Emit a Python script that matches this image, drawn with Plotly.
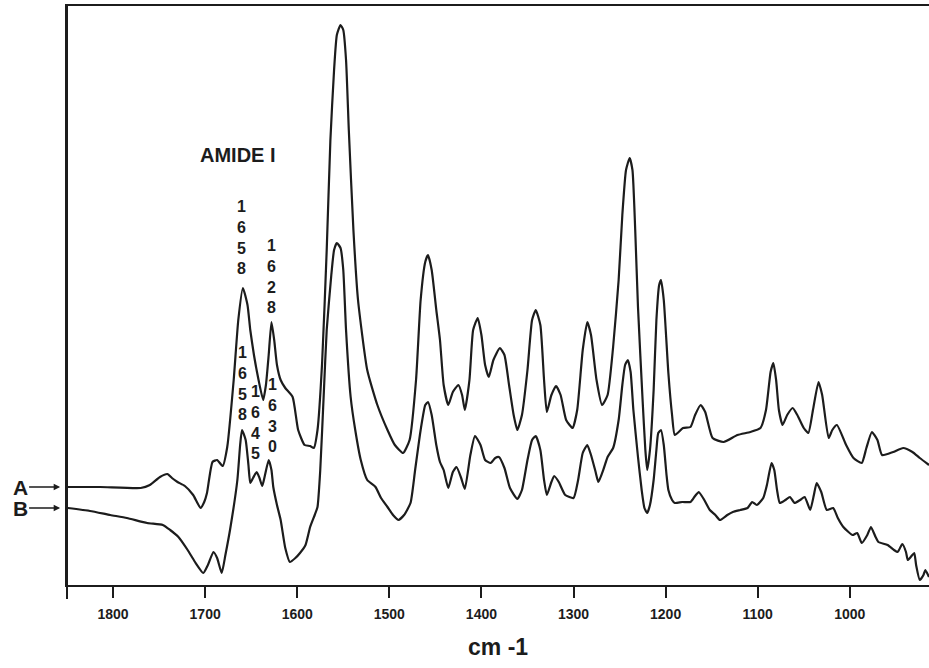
import plotly.graph_objects as go

# Wavenumbers (cm-1) and absorbance (a.u.)
wn_a = [1849, 1814, 1770, 1760, 1749, 1741, 1736, 1730, 1722, 1713, 1705, 1701, 1698, 1692, 1687, 1681,
        1676, 1669, 1664, 1659, 1654, 1651, 1647, 1642, 1637, 1634, 1631, 1628, 1625, 1622, 1618, 1613,
        1605, 1599, 1592, 1586, 1582, 1578, 1573, 1568, 1564, 1560, 1557, 1553, 1550, 1547, 1544, 1539,
        1534, 1524, 1513, 1502, 1494, 1485, 1478, 1471, 1466, 1461, 1458, 1454, 1449, 1445, 1441, 1436,
        1431, 1425, 1421, 1418, 1413, 1409, 1404, 1400, 1396, 1392, 1387, 1380, 1375, 1370, 1365, 1361,
        1356, 1350, 1345, 1341, 1336, 1332, 1329, 1324, 1319, 1314, 1308, 1301, 1296, 1290, 1285, 1281,
        1275, 1269, 1263, 1257, 1251, 1247, 1243, 1239, 1236, 1233, 1230, 1225, 1222, 1220, 1217, 1213,
        1210, 1207, 1205, 1202, 1197, 1193, 1190, 1181, 1173, 1168, 1162, 1157, 1149, 1137, 1122, 1108,
        1097, 1091, 1086, 1083, 1080, 1077, 1073, 1068, 1062, 1057, 1050, 1045, 1040, 1034, 1030, 1023,
        1019, 1014, 1004, 996, 987, 982, 976, 970, 965, 953, 942, 932, 924, 914]
abs_a = [0.98, 0.98, 0.97, 1.00, 1.08, 1.11, 1.07, 1.03, 0.99, 0.90, 0.77, 0.83, 0.92, 1.23, 1.25, 1.19,
         1.38, 2.05, 2.65, 2.97, 2.80, 2.55, 2.30, 2.05, 1.85, 2.00, 2.30, 2.63, 2.45, 2.20, 2.05, 1.97,
         1.88, 1.55, 1.40, 1.39, 1.37, 1.55, 2.22, 3.35, 4.45, 5.15, 5.50, 5.60, 5.55, 5.25, 4.55, 3.55,
         2.85, 2.15, 1.80, 1.55, 1.40, 1.32, 1.45, 2.05, 2.85, 3.23, 3.30, 3.15, 2.75, 2.45, 2.00, 1.80,
         1.93, 2.00, 1.90, 1.75, 2.05, 2.55, 2.67, 2.50, 2.20, 2.08, 2.25, 2.37, 2.30, 2.00, 1.70, 1.55,
         1.70, 2.15, 2.65, 2.75, 2.60, 2.05, 1.73, 1.90, 1.99, 1.90, 1.65, 1.57, 1.75, 2.35, 2.63, 2.50,
         2.05, 1.80, 1.90, 2.38, 3.05, 3.70, 4.15, 4.27, 4.15, 3.55, 2.78, 1.85, 1.35, 1.15, 1.35, 1.95,
         2.65, 3.00, 3.05, 2.85, 2.12, 1.70, 1.50, 1.57, 1.58, 1.70, 1.80, 1.73, 1.47, 1.43, 1.50, 1.53,
         1.57, 1.75, 2.13, 2.22, 2.05, 1.75, 1.60, 1.70, 1.77, 1.70, 1.57, 1.52, 1.75, 2.03, 1.90, 1.47,
         1.55, 1.60, 1.40, 1.27, 1.22, 1.37, 1.53, 1.45, 1.30, 1.33, 1.37, 1.33, 1.27, 1.20]

wn_b = [1849, 1825, 1803, 1785, 1763, 1746, 1738, 1729, 1719, 1711, 1702, 1697, 1691, 1687, 1682, 1678,
        1673, 1665, 1662, 1660, 1656, 1653, 1651, 1648, 1644, 1641, 1638, 1635, 1631, 1628, 1626, 1622,
        1618, 1613, 1608, 1602, 1597, 1591, 1586, 1581, 1578, 1575, 1571, 1568, 1563, 1560, 1557, 1553,
        1550, 1547, 1542, 1537, 1531, 1524, 1515, 1509, 1502, 1496, 1490, 1484, 1477, 1472, 1466, 1461,
        1458, 1454, 1449, 1445, 1441, 1436, 1431, 1427, 1422, 1418, 1412, 1407, 1401, 1396, 1390, 1385,
        1381, 1375, 1369, 1361, 1356, 1350, 1345, 1341, 1336, 1332, 1329, 1324, 1321, 1316, 1309, 1300,
        1295, 1290, 1285, 1281, 1276, 1273, 1267, 1263, 1257, 1251, 1247, 1244, 1241, 1238, 1235, 1230,
        1226, 1223, 1220, 1217, 1213, 1210, 1208, 1205, 1202, 1199, 1197, 1193, 1190, 1182, 1173, 1168,
        1164, 1158, 1152, 1146, 1141, 1133, 1127, 1119, 1111, 1106, 1101, 1094, 1090, 1085, 1082, 1079,
        1076, 1070, 1065, 1060, 1054, 1049, 1043, 1039, 1036, 1031, 1025, 1018, 1013, 1007, 997, 992,
        987, 981, 977, 972, 969, 959, 952, 948, 943, 939, 937, 933, 930, 928, 924, 920, 918, 914]
abs_b = [0.77, 0.74, 0.70, 0.67, 0.62, 0.60, 0.55, 0.48, 0.35, 0.23, 0.12, 0.20, 0.33, 0.27, 0.12, 0.30,
         0.55, 1.05, 1.40, 1.55, 1.45, 1.20, 1.02, 1.07, 1.13, 1.07, 0.99, 1.10, 1.25, 1.15, 0.98, 0.80,
         0.65, 0.37, 0.23, 0.27, 0.32, 0.40, 0.58, 0.70, 0.78, 1.15, 1.95, 2.55, 3.10, 3.35, 3.42, 3.37,
         3.15, 2.55, 1.88, 1.55, 1.25, 1.05, 0.98, 0.87, 0.78, 0.70, 0.65, 0.70, 0.82, 1.15, 1.55, 1.80,
         1.83, 1.70, 1.40, 1.23, 1.15, 0.97, 1.13, 1.18, 1.07, 0.96, 1.30, 1.49, 1.40, 1.25, 1.22, 1.27,
         1.28, 1.17, 0.97, 0.86, 0.95, 1.25, 1.45, 1.49, 1.35, 1.05, 0.90, 1.03, 1.09, 1.03, 0.90, 0.87,
         1.05, 1.32, 1.40, 1.30, 1.13, 1.03, 1.17, 1.28, 1.37, 1.65, 2.00, 2.20, 2.25, 2.13, 1.75, 1.28,
         0.95, 0.77, 0.72, 0.80, 1.05, 1.35, 1.52, 1.55, 1.40, 1.10, 0.95, 0.85, 0.82, 0.83, 0.83, 0.89,
         0.93, 0.85, 0.75, 0.70, 0.65, 0.70, 0.73, 0.75, 0.77, 0.83, 0.80, 0.87, 1.00, 1.22, 1.15, 0.95,
         0.82, 0.85, 0.88, 0.82, 0.85, 0.88, 0.75, 0.90, 1.02, 0.93, 0.75, 0.77, 0.67, 0.58, 0.50, 0.52,
         0.42, 0.50, 0.58, 0.48, 0.43, 0.40, 0.35, 0.33, 0.41, 0.33, 0.25, 0.29, 0.32, 0.20, 0.05, 0.10, 0.15, 0.08]

tick_vals = [1800, 1700, 1600, 1500, 1400, 1300, 1200, 1100, 1000]
tick_text = [str(v) for v in tick_vals]

# band labels: (text, wavenumber, absorbance position)
band_labels = [
    ("1658", 1660, 3.475),
    ("1628", 1628, 3.09),
    ("1658", 1659, 2.015),
    ("1645", 1645, 1.63),
    ("1630", 1627, 1.70),
]

ink = "#1c1c1c"
font_b = "Liberation Sans"

fig = go.Figure()
fig.add_trace(go.Scatter(x=wn_a, y=abs_a, mode="lines", name="A",
                         line=dict(color=ink, width=2.2, shape="spline", smoothing=0.5)))
fig.add_trace(go.Scatter(x=wn_b, y=abs_b, mode="lines", name="B",
                         line=dict(color=ink, width=2.2, shape="spline", smoothing=0.5)))

ann = []
ann.append(dict(x=1664, y=4.30, xref="x", yref="y", text="<b>AMIDE I</b>", showarrow=False,
                font=dict(family=font_b, size=20, color=ink)))
for txt, xv, yv in band_labels:
    ann.append(dict(x=xv, y=yv, xref="x", yref="y", text="<b>" + "<br>".join(txt) + "</b>",
                    showarrow=False, font=dict(family=font_b, size=16, color=ink),
                    yanchor="middle", xanchor="center"))
for lab, yv in (("A", abs_a[0]), ("B", abs_b[0])):
    ann.append(dict(x=-0.008, y=yv, xref="paper", yref="y", text="<b>" + lab + "</b>",
                    showarrow=True, ax=-40, ay=0, axref="pixel", ayref="pixel",
                    arrowhead=2, arrowsize=0.8, arrowwidth=1.6, arrowcolor=ink, standoff=0,
                    font=dict(family=font_b, size=21, color=ink)))
ann.append(dict(x=0.5, y=-0.107, xref="paper", yref="paper", text="<b>cm -1</b>", showarrow=False,
                font=dict(family=font_b, size=23, color=ink), yanchor="middle"))

fig.update_layout(
    width=929, height=668,
    margin=dict(l=67, r=0, t=6, b=83),
    paper_bgcolor="white", plot_bgcolor="white",
    showlegend=False,
    annotations=ann,
    shapes=[dict(type="line", xref="paper", yref="paper", x0=0, x1=0, y0=-0.024, y1=1,
                 line=dict(color=ink, width=2))],
)
fig.update_xaxes(range=[1850, 914], tickvals=tick_vals, ticktext=tick_text,
                 ticks="outside", ticklen=11, tickwidth=2, tickcolor=ink,
                 showline=True, linecolor=ink, linewidth=2, mirror=True,
                 showgrid=False, zeroline=False,
                 tickfont=dict(family=font_b, size=14, color=ink, weight="bold"),
                 ticklabelstandoff=4)
fig.update_yaxes(range=[0, 5.79], showline=True, linecolor=ink, linewidth=2,
                 showticklabels=False, ticks="", showgrid=False, zeroline=False)

fig.write_html("out.html")
